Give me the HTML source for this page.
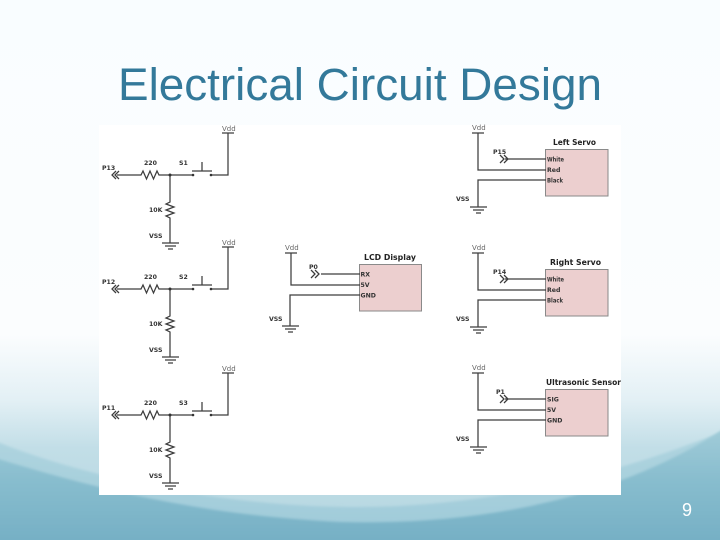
<!DOCTYPE html>
<html><head><meta charset="utf-8"><style>
html,body{margin:0;padding:0;width:720px;height:540px;overflow:hidden;background:#fff}
svg{display:block}
.w{fill:none;stroke:#3c3c3c;stroke-width:1.25}
.t{font-family:"DejaVu Sans",sans-serif;font-size:6.2px;fill:#333;font-weight:bold}
.v{font-family:"DejaVu Sans",sans-serif;font-size:7px;fill:#666}
.h{font-family:"DejaVu Sans",sans-serif;font-size:8.2px;fill:#222;font-weight:bold}
.b{fill:#eccfcf;stroke:#8a8a8a;stroke-width:1}
</style></head><body>
<svg width="720" height="540" viewBox="0 0 720 540" xmlns="http://www.w3.org/2000/svg">
<defs>
<linearGradient id="bg" gradientUnits="userSpaceOnUse" x1="0" y1="0" x2="0" y2="540">
<stop offset="0" stop-color="#f9fdff"/><stop offset=".62" stop-color="#fbfdfe"/><stop offset=".74" stop-color="#e3f0f5"/><stop offset=".83" stop-color="#c2dee7"/><stop offset="1" stop-color="#b4d6e0"/>
</linearGradient>
<linearGradient id="g1" gradientUnits="userSpaceOnUse" x1="0" y1="430" x2="0" y2="530">
<stop offset="0" stop-color="#b0d5e0"/><stop offset="1" stop-color="#a0cbd9"/>
</linearGradient>
<linearGradient id="g2" gradientUnits="userSpaceOnUse" x1="0" y1="430" x2="0" y2="540">
<stop offset="0" stop-color="#a0cbd8"/><stop offset=".45" stop-color="#88bdce"/><stop offset="1" stop-color="#76b0c5"/>
</linearGradient>
<filter id="s" x="-2%" y="-2%" width="104%" height="104%"><feGaussianBlur stdDeviation="0.3"/></filter>
<filter id="s2" x="-5%" y="-20%" width="110%" height="140%"><feGaussianBlur stdDeviation="1.2"/></filter>
</defs>
<rect width="720" height="540" fill="url(#bg)"/>
<path d="M-5 441C60 468 200 506 350 507C480 508 600 480 725 431V545H-5Z" fill="url(#g1)" filter="url(#s2)"/>
<path d="M-5 458C100 490 200 515 340 522C480 526 620 498 725 428V545H-5Z" fill="url(#g2)" filter="url(#s2)"/>
<text x="360" y="100" text-anchor="middle" font-family="Liberation Sans, sans-serif" font-size="45.500" fill="#33799a" textLength="484" lengthAdjust="spacingAndGlyphs">Electrical Circuit Design</text>
<text x="687" y="516" text-anchor="middle" font-family="Liberation Sans, sans-serif" font-size="18" fill="#fff">9</text>
<rect x="99" y="125" width="522" height="370" fill="#fff"/>
<g filter="url(#s)">
<!-- switch 1 -->
<g>
<path class="w" d="M117 175H141l2-4 3.500 8 3.500-8 3.500 8 3.500-8 2 4H193M211 175H228V133M222 133H234M170 175V202l-4 2 8 3-8 3 8 3-8 3 4 2V243M162 243H179M165 246H176M168 249H173M192 171H212M202 171V162"/>
<path class="w" d="M116 171l-4 4 4 4M119 171l-4 4 4 4"/>
<circle cx="170" cy="175" r="1.500" fill="#333"/><circle cx="193" cy="175" r="1.300" fill="#333"/><circle cx="211" cy="175" r="1.300" fill="#333"/>
<text class="t" x="102" y="170">P13</text><text class="t" x="144" y="165">220</text><text class="t" x="179" y="165">S1</text><text class="t" x="149" y="212">10K</text><text class="t" x="149" y="238">VSS</text><text class="v" x="222" y="131">Vdd</text>
</g>
<!-- switch 2 -->
<g transform="translate(0 114)">
<path class="w" d="M117 175H141l2-4 3.500 8 3.500-8 3.500 8 3.500-8 2 4H193M211 175H228V133"/>
<path class="w" d="M222 133H234M170 175V202l-4 2 8 3-8 3 8 3-8 3 4 2V243M162 243H179M165 246H176M168 249H173M192 171H212M202 171V162"/>
<path class="w" d="M116 171l-4 4 4 4M119 171l-4 4 4 4"/>
<circle cx="170" cy="175" r="1.500" fill="#333"/><circle cx="193" cy="175" r="1.300" fill="#333"/><circle cx="211" cy="175" r="1.300" fill="#333"/>
<text class="t" x="102" y="170">P12</text><text class="t" x="144" y="165">220</text><text class="t" x="179" y="165">S2</text><text class="t" x="149" y="212">10K</text><text class="t" x="149" y="238">VSS</text><text class="v" x="222" y="131">Vdd</text>
</g>
<!-- switch 3 -->
<g transform="translate(0 240)">
<path class="w" d="M117 175H141l2-4 3.500 8 3.500-8 3.500 8 3.500-8 2 4H193M211 175H228V133"/>
<path class="w" d="M222 133H234M170 175V202l-4 2 8 3-8 3 8 3-8 3 4 2V243M162 243H179M165 246H176M168 249H173M192 171H212M202 171V162"/>
<path class="w" d="M116 171l-4 4 4 4M119 171l-4 4 4 4"/>
<circle cx="170" cy="175" r="1.500" fill="#333"/><circle cx="193" cy="175" r="1.300" fill="#333"/><circle cx="211" cy="175" r="1.300" fill="#333"/>
<text class="t" x="102" y="170">P11</text><text class="t" x="144" y="165">220</text><text class="t" x="179" y="165">S3</text><text class="t" x="149" y="212">10K</text><text class="t" x="149" y="238">VSS</text><text class="v" x="222" y="131">Vdd</text>
</g>
<!-- LCD -->
<rect class="b" x="359.500" y="264.500" width="62" height="46.500"/>
<path class="w" d="M285 253H297M291 253V285H360M321 274H360M360 295H290V326M282 326H299M285 329H296M288 332H293M311 270l4 4-4 4M315 270l4 4-4 4"/>
<text class="v" x="285" y="250">Vdd</text><text class="t" x="309" y="269">P0</text><text class="t" x="269" y="321">VSS</text>
<text class="h" x="364" y="260" textLength="52" lengthAdjust="spacingAndGlyphs">LCD Display</text>
<text class="t" x="360.500" y="276.500">RX</text><text class="t" x="360.500" y="287">5V</text><text class="t" x="360.500" y="297.500">GND</text>
<!-- Left Servo -->
<rect class="b" x="545.500" y="149.500" width="62.500" height="46.500"/>
<path class="w" d="M472 133H484M478 133V170H546M505 159H546M546 180H478V207M470 207H487M473 210H484M476 213H481M500 155l4 4-4 4M504 155l4 4-4 4"/>
<text class="v" x="472" y="130">Vdd</text><text class="t" x="493" y="154">P15</text><text class="t" x="456" y="201">VSS</text>
<text class="h" x="553" y="145" textLength="43" lengthAdjust="spacingAndGlyphs">Left Servo</text>
<text class="t" x="547" y="161.500" textLength="17" lengthAdjust="spacingAndGlyphs">White</text><text class="t" x="547" y="172">Red</text><text class="t" x="547" y="182.500" textLength="16" lengthAdjust="spacingAndGlyphs">Black</text>
<!-- Right Servo -->
<rect class="b" x="545.500" y="269.500" width="62.500" height="46.500"/>
<path class="w" d="M472 253H484M478 253V290H546M505 279H546M546 300H478V327M470 327H487M473 330H484M476 333H481M500 275l4 4-4 4M504 275l4 4-4 4"/>
<text class="v" x="472" y="250">Vdd</text><text class="t" x="493" y="274">P14</text><text class="t" x="456" y="321">VSS</text>
<text class="h" x="550" y="265" textLength="51" lengthAdjust="spacingAndGlyphs">Right Servo</text>
<text class="t" x="547" y="281.500" textLength="17" lengthAdjust="spacingAndGlyphs">White</text><text class="t" x="547" y="292">Red</text><text class="t" x="547" y="302.500" textLength="16" lengthAdjust="spacingAndGlyphs">Black</text>
<!-- Ultrasonic -->
<rect class="b" x="545.500" y="389.500" width="62.500" height="46.500"/>
<path class="w" d="M472 373H484M478 373V410H546M505 399H546M546 420H478V447M470 447H487M473 450H484M476 453H481M500 395l4 4-4 4M504 395l4 4-4 4"/>
<text class="v" x="472" y="370">Vdd</text><text class="t" x="496" y="394">P1</text><text class="t" x="456" y="441">VSS</text>
<text class="h" x="546" y="385" textLength="75" lengthAdjust="spacingAndGlyphs">Ultrasonic Sensor</text>
<text class="t" x="547" y="401.500">SIG</text><text class="t" x="547" y="412">5V</text><text class="t" x="547" y="422.500">GND</text>
</g>
</svg>
</body></html>
